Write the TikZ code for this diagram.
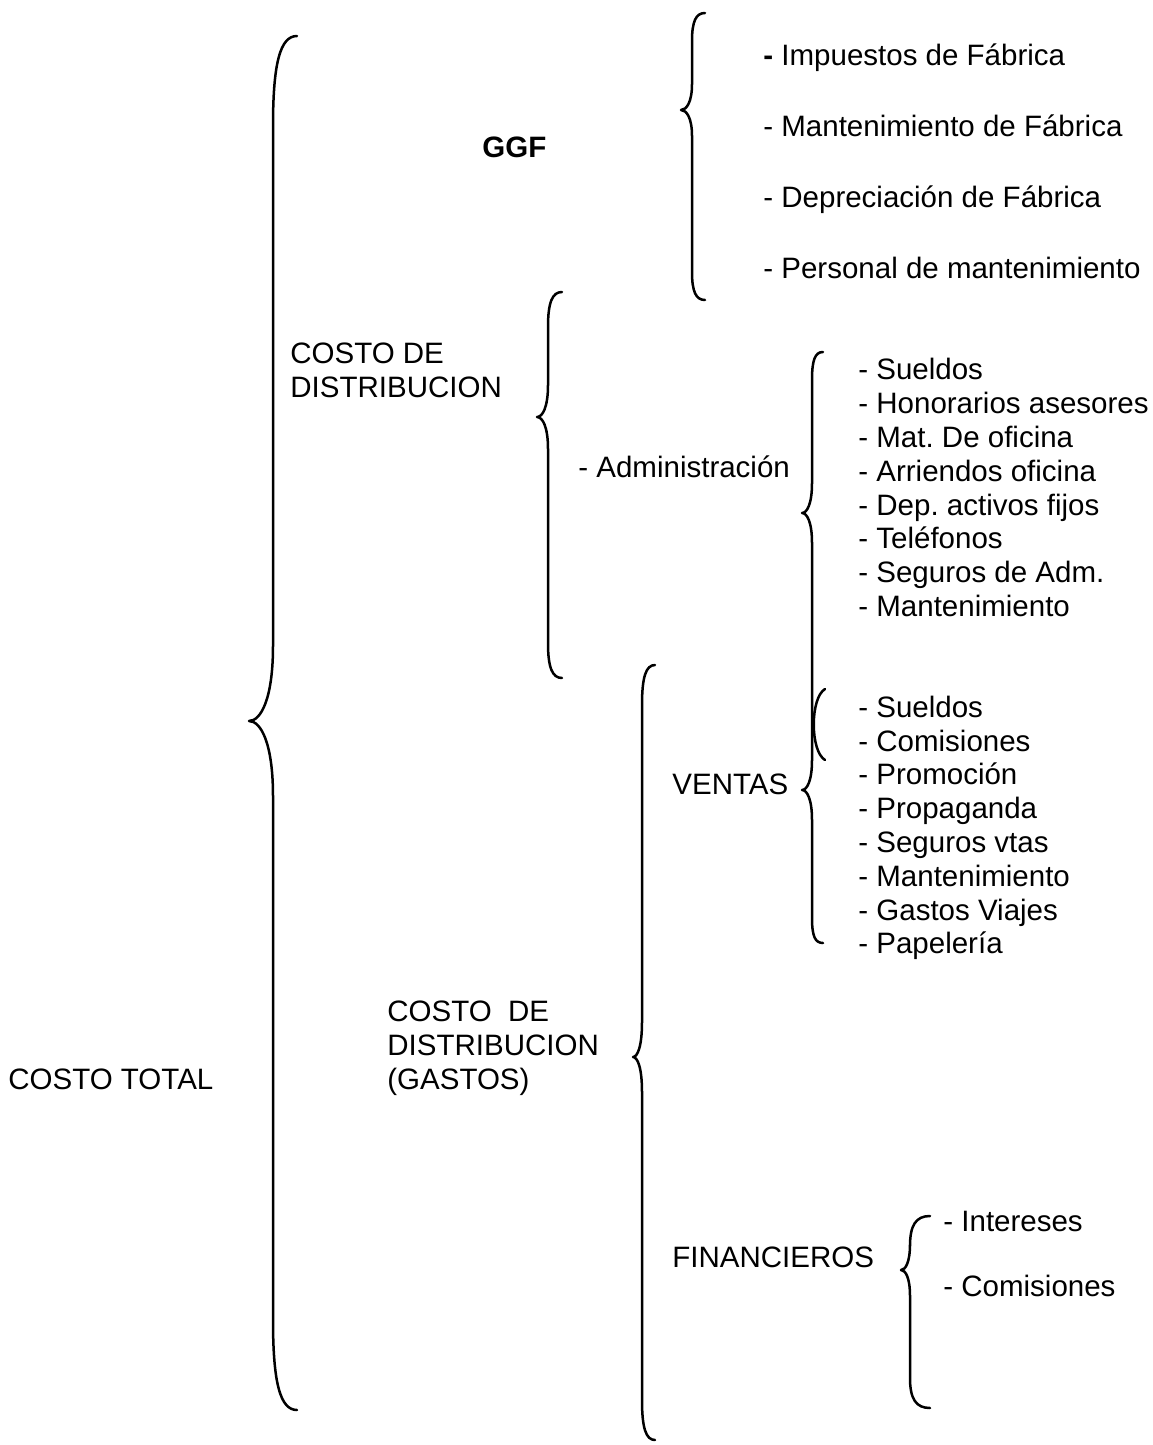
\documentclass[tikz,border=0pt]{standalone}
\usepackage{fontspec}
\setmainfont{Liberation Sans}
\frenchspacing
\tikzset{
  lbl/.style={anchor=base west, inner sep=0pt, font=\fontsize{14.75}{17}\selectfont},
  brace/.style={line width=1.25pt, line cap=round, line join=round}
}
% #1 x of line, #2 top y, #3 cusp y, #4 bottom y, #5 end tip offset, #6 cusp offset, #7 end curve height, #8 cusp curve height
\newcommand\cbrace[8]{%
  \draw[brace] ({#1+#5},{#2}) .. controls ({#1+0.3*#5},{#2}) and ({#1},{#2+0.3*#7}) .. ({#1},{#2+#7})
    -- ({#1},{#3-#8}) .. controls ({#1},{#3-0.3*#8}) and ({#1-0.5*#6},{#3}) .. ({#1-#6},{#3})
    .. controls ({#1-0.5*#6},{#3}) and ({#1},{#3+0.3*#8}) .. ({#1},{#3+#8})
    -- ({#1},{#4-#7}) .. controls ({#1},{#4-0.3*#7}) and ({#1+0.3*#5},{#4}) .. ({#1+#5},{#4});}
\begin{document}
\begin{tikzpicture}[x=0.5pt,y=-0.5pt]
\useasboundingbox (0,0) rectangle (1152,1445);

% braces
\cbrace{273}{36}{721}{1410}{24}{24}{90}{75}
\cbrace{692}{13}{110}{300}{13}{11}{28}{26}
\cbrace{548}{292}{417}{678}{14}{11}{35}{32}
\cbrace{642}{665}{1057}{1440}{13}{9}{40}{35}
\cbrace{910}{1216}{1270}{1408}{20}{9}{30}{26}
% long double brace for admin and ventas lists
\draw[brace] (823,352) .. controls (815,352) and (812,360) .. (812,380)
  -- (812,483) .. controls (812,504) and (807,513) .. (802,513)
  .. controls (807,513) and (812,522) .. (812,543)
  -- (812,760) .. controls (812,781) and (807,790) .. (802,790)
  .. controls (807,790) and (812,799) .. (812,820)
  -- (812,918) .. controls (812,936) and (815,943) .. (823,943);
% small paren
\draw[brace] (825,689) .. controls (810,698) and (810,751) .. (825,760);

% texts
\node[lbl] (ct) at (8,1089) {COSTO TOTAL};
\node[lbl] (ggf) at (482,157) {\bfseries GGF};
\node[lbl] (g1) at (763,66) {{\bfseries -} Impuestos de Fábrica};
\node[lbl] (g2) at (763,137) {- Mantenimiento de Fábrica};
\node[lbl] (g3) at (763,207) {- Depreciación de Fábrica};
\node[lbl] (g4) at (763,278) {- Personal de mantenimiento};

\node[lbl] (cd1) at (290,363) {COSTO DE};
\node[lbl] (cd2) at (290,397) {DISTRIBUCION};
\node[lbl] (adm) at (578,477) {- Administración};

\node[lbl] (a1) at (858,379) {- Sueldos};
\node[lbl] (a2) at (858,413) {- Honorarios asesores};
\node[lbl] (a3) at (858,447) {- Mat. De oficina};
\node[lbl] (a4) at (858,481) {- Arriendos oficina};
\node[lbl] (a5) at (858,515) {- Dep. activos fijos};
\node[lbl] (a6) at (858,548) {- Teléfonos};
\node[lbl] (a7) at (858,582) {- Seguros de Adm.};
\node[lbl] (a8) at (858,616) {- Mantenimiento};

\node[lbl] (ven) at (672,794) {VENTAS};
\node[lbl] (v1) at (858,717) {- Sueldos};
\node[lbl] (v2) at (858,751) {- Comisiones};
\node[lbl] (v3) at (858,784) {- Promoción};
\node[lbl] (v4) at (858,818) {- Propaganda};
\node[lbl] (v5) at (858,852) {- Seguros vtas};
\node[lbl] (v6) at (858,886) {- Mantenimiento};
\node[lbl] (v7) at (858,920) {- Gastos Viajes};
\node[lbl] (v8) at (858,953) {- Papelería};

\node[lbl] (cg1) at (387,1021) {COSTO\ \ DE};
\node[lbl] (cg2) at (387,1055) {DISTRIBUCION};
\node[lbl] (cg3) at (387,1089) {(GASTOS)};

\node[lbl] (fin) at (672,1267) {FINANCIEROS};
\node[lbl] (f1) at (943,1231) {- Intereses};
\node[lbl] (f2) at (943,1296) {- Comisiones};
\end{tikzpicture}
\end{document}
